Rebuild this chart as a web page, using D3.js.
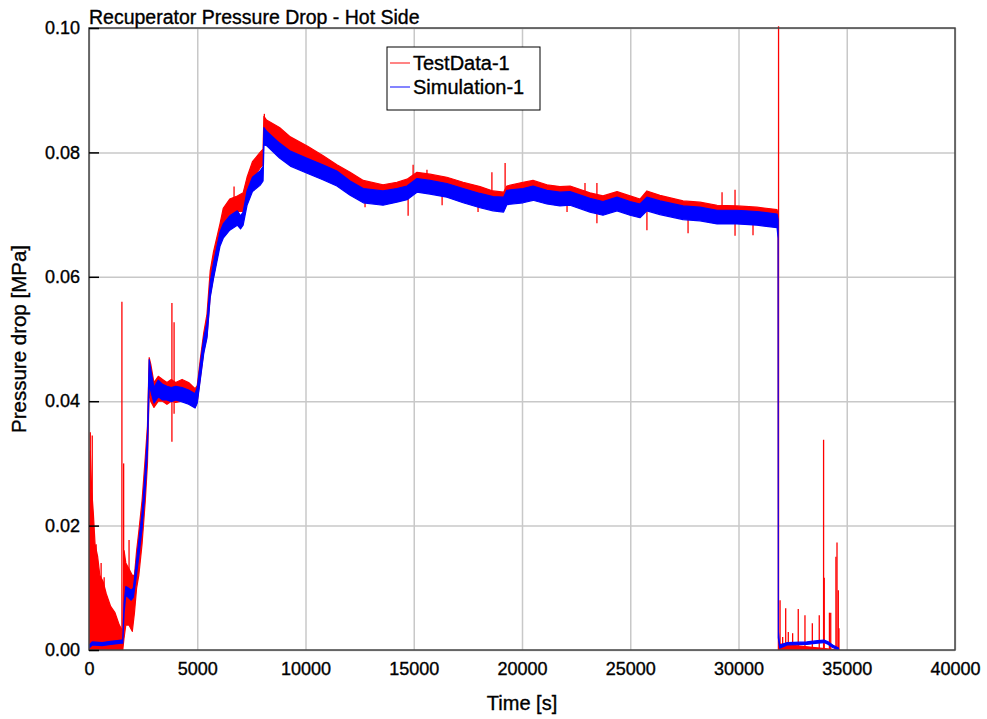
<!DOCTYPE html>
<html>
<head>
<meta charset="utf-8">
<script src="https://cdn.jsdelivr.net/npm/d3@7"></script>
<style>
  html, body { margin: 0; padding: 0; background: #fff; }
  svg { display: block; font-family: "Liberation Sans", Arial, sans-serif; }
  svg text { stroke: #000; stroke-width: 0.35px; }
</style>
</head>
<body>
<div id="chart"></div>
<script>
const TITLE   = 'Recuperator Pressure Drop - Hot Side';
const X_LABEL = 'Time [s]';
const Y_LABEL = 'Pressure drop [MPa]';
const X_TICKS = [0, 5000, 10000, 15000, 20000, 25000, 30000, 35000, 40000];
const Y_TICKS = [0, 0.02, 0.04, 0.06, 0.08, 0.10];

// TestData-1: envelope of the noisy band (time, low, high)
const testT  = [0, 60, 120, 200, 280, 400, 500, 650, 800, 1000, 1200, 1400, 1560, 1620, 1700, 1850, 2000, 2100, 2200, 2300, 2450, 2600, 2700, 2780, 2850, 3000, 3200, 3400, 3600, 3800, 4000, 4300, 4600, 4900, 5000, 5150, 5300, 5450, 5600, 5750, 6050, 6200, 6500, 6850, 7120, 7300, 7550, 7900, 8040, 8080, 8200, 8800, 9300, 10100, 10800, 11450, 12060, 12670, 13580, 14220, 14690, 15150, 15750, 16530, 17280, 18060, 18660, 19150, 19300, 20050, 20510, 21150, 21750, 22220, 23140, 23740, 24390, 24990, 25450, 25770, 26370, 27440, 28220, 29010, 29930, 30850, 31780, 31830, 31845, 34650];
const testLo = [0, 0, 0, 0, 0, 0, 0, 0, 0, 0, 0, 0, 0, 0.002, 0.004, 0.004, 0.003, 0.006, 0.010, 0.012, 0.017, 0.024, 0.030, 0.042, 0.040, 0.039, 0.040, 0.040, 0.0395, 0.040, 0.0398, 0.040, 0.040, 0.039, 0.040, 0.044, 0.048, 0.0505, 0.057, 0.060, 0.0655, 0.0685, 0.070, 0.0705, 0.0705, 0.073, 0.0755, 0.0775, 0.078, 0.083, 0.0825, 0.081, 0.0795, 0.078, 0.0765, 0.0755, 0.074, 0.0728, 0.0723, 0.0728, 0.0733, 0.0745, 0.0742, 0.0736, 0.0728, 0.072, 0.0714, 0.0713, 0.0724, 0.0728, 0.0732, 0.0726, 0.0722, 0.0723, 0.0712, 0.0708, 0.0714, 0.0707, 0.0703, 0.0714, 0.0708, 0.0700, 0.0698, 0.0693, 0.0693, 0.0690, 0.0686, 0.0670, 0, 0];
const testHi = [0.020, 0.032, 0.026, 0.022, 0.017, 0.015, 0.012, 0.011, 0.009, 0.007, 0.006, 0.004, 0.003, 0.016, 0.014, 0.013, 0.012, 0.012, 0.016, 0.019, 0.024, 0.031, 0.036, 0.047, 0.046, 0.043, 0.044, 0.0435, 0.043, 0.0435, 0.043, 0.0435, 0.043, 0.042, 0.0425, 0.047, 0.051, 0.054, 0.061, 0.064, 0.0685, 0.071, 0.0725, 0.073, 0.0735, 0.076, 0.0785, 0.080, 0.0805, 0.0858, 0.0852, 0.084, 0.0825, 0.081, 0.0795, 0.078, 0.0768, 0.0755, 0.0748, 0.0752, 0.0757, 0.0768, 0.0765, 0.076, 0.0752, 0.0745, 0.0738, 0.0736, 0.0746, 0.0752, 0.0755, 0.0748, 0.0745, 0.0746, 0.0735, 0.073, 0.0737, 0.073, 0.0725, 0.0738, 0.0731, 0.0722, 0.072, 0.0715, 0.0714, 0.0712, 0.0708, 0.0700, 0.001, 0];

// TestData-1: isolated spikes (time, from, to)
const spikeT    = [60, 150, 330, 560, 700, 1520, 1600, 1850, 3830, 3930, 6700, 8100, 12750, 14740, 14970, 15610, 16310, 17970, 18610, 19220, 22080, 22910, 23460, 25770, 27670, 29240, 29840, 30670, 31850, 31920, 32040, 32180, 32300, 32500, 32760, 33070, 33410, 33730, 33930, 33960, 34200, 34260, 34500, 34550, 34610, 34640];
const spikeFrom = [0, 0, 0, 0, 0, 0, 0.002, 0.004, 0.0335, 0.038, 0.070, 0.083, 0.0712, 0.0698, 0.0735, 0.0745, 0.0715, 0.0704, 0.073, 0.071, 0.0704, 0.0735, 0.0686, 0.0675, 0.067, 0.071, 0.0666, 0.0667, 0, 0, 0, 0, 0, 0, 0, 0, 0, 0, 0, 0, 0, 0, 0, 0, 0, 0];
const spikeTo   = [0.035, 0.0345, 0.017, 0.014, 0.0117, 0.056, 0.030, 0.0177, 0.0558, 0.0527, 0.0745, 0.0862, 0.074, 0.0735, 0.078, 0.0772, 0.075, 0.0735, 0.0768, 0.0783, 0.074, 0.0751, 0.0751, 0.073, 0.071, 0.0736, 0.074, 0.071, 0.1003, 0.0080, 0.0021, 0.0067, 0.0029, 0.0027, 0.0066, 0.0056, 0.0043, 0.0056, 0.0338, 0.0116, 0.0060, 0.0060, 0.0150, 0.0173, 0.0096, 0.0035];

// Simulation-1: envelope of the band (time, low, high)
const simT  = [0, 150, 600, 1000, 1500, 1560, 1620, 1700, 1800, 1950, 2050, 2150, 2300, 2450, 2600, 2700, 2780, 2850, 3000, 3200, 3400, 3600, 3800, 4000, 4300, 4600, 4900, 5000, 5150, 5300, 5450, 5600, 5750, 6050, 6200, 6500, 6850, 7000, 7120, 7300, 7550, 7900, 8040, 8080, 8200, 8800, 9300, 10100, 10800, 11450, 12060, 12670, 13580, 14220, 14690, 15150, 15750, 16530, 17280, 18060, 18660, 19150, 19300, 20050, 20510, 21150, 21750, 22220, 23140, 23740, 24390, 24990, 25450, 25770, 26370, 27440, 28220, 29010, 29930, 30850, 31780, 31830, 31840, 31900, 32250, 33150, 33650, 33950, 34150, 34350, 34620];
const simLo = [0.0003, 0.0008, 0.0007, 0.0009, 0.0011, 0.0011, 0.0060, 0.0088, 0.0085, 0.0080, 0.0085, 0.0110, 0.0150, 0.0195, 0.0260, 0.0320, 0.0427, 0.0417, 0.0397, 0.0407, 0.0402, 0.0402, 0.0399, 0.0402, 0.0399, 0.0395, 0.0389, 0.0397, 0.0437, 0.0477, 0.0502, 0.0567, 0.0597, 0.0649, 0.0662, 0.0675, 0.0683, 0.0677, 0.0683, 0.0715, 0.0737, 0.0747, 0.0754, 0.0812, 0.0811, 0.0791, 0.0778, 0.0766, 0.0756, 0.0746, 0.0731, 0.0719, 0.0715, 0.0720, 0.0724, 0.0736, 0.0733, 0.0728, 0.0719, 0.0711, 0.0706, 0.0704, 0.0716, 0.0719, 0.0723, 0.0717, 0.0714, 0.0715, 0.0704, 0.0699, 0.0706, 0.0699, 0.0695, 0.0706, 0.0700, 0.0692, 0.0690, 0.0685, 0.0685, 0.0683, 0.0679, 0.0662, 0.0020, 0.0003, 0.0008, 0.0009, 0.0011, 0.0012, 0.0009, 0.0004, 0.0000];
const simHi = [0.0008, 0.0013, 0.0012, 0.0014, 0.0016, 0.0016, 0.0075, 0.0102, 0.0100, 0.0096, 0.0100, 0.0130, 0.0175, 0.0220, 0.0290, 0.0345, 0.0467, 0.0452, 0.0422, 0.0434, 0.0427, 0.0424, 0.0422, 0.0424, 0.0422, 0.0418, 0.0412, 0.0422, 0.0462, 0.0502, 0.0527, 0.0592, 0.0622, 0.0672, 0.0685, 0.0698, 0.0706, 0.0698, 0.0704, 0.0738, 0.0760, 0.0770, 0.0777, 0.0840, 0.0834, 0.0815, 0.0802, 0.0790, 0.0780, 0.0770, 0.0754, 0.0742, 0.0738, 0.0742, 0.0746, 0.0758, 0.0755, 0.0750, 0.0742, 0.0734, 0.0729, 0.0728, 0.0739, 0.0742, 0.0746, 0.0739, 0.0736, 0.0737, 0.0726, 0.0721, 0.0728, 0.0721, 0.0717, 0.0728, 0.0722, 0.0714, 0.0712, 0.0707, 0.0707, 0.0705, 0.0701, 0.0692, 0.0030, 0.0008, 0.0012, 0.0013, 0.0015, 0.0016, 0.0013, 0.0008, 0.0003];

const MARGIN = { top: 28, right: 32, bottom: 69, left: 89 };
const WIDTH  = 987;
const HEIGHT = 719;
const C_TEST = '#ff0000';
const C_SIM  = '#0000ff';
const C_GRID = '#c8c8c8';
const FONT   = '18px';

const w = WIDTH - MARGIN.left - MARGIN.right;
const h = HEIGHT - MARGIN.top - MARGIN.bottom;

const svg = d3.select('#chart').append('svg')
    .attr('width', WIDTH)
    .attr('height', HEIGHT);

const g = svg.append('g').attr('transform', `translate(${MARGIN.left},${MARGIN.top})`);

const x = d3.scaleLinear().domain([0, 40000]).range([0, w]);
const y = d3.scaleLinear().domain([0, 0.1]).range([h, 0]);

// grid
g.append('g').call(d3.axisBottom(x).tickValues(X_TICKS).tickSize(h).tickFormat(''))
    .call(s => s.select('.domain').remove())
    .selectAll('line').attr('stroke', C_GRID).attr('stroke-width', 1.5);
g.append('g').call(d3.axisLeft(y).tickValues(Y_TICKS).tickSize(-w).tickFormat(''))
    .call(s => s.select('.domain').remove())
    .selectAll('line').attr('stroke', C_GRID).attr('stroke-width', 1.5);

svg.append('clipPath').attr('id', 'plot-clip')
    .append('rect').attr('x', 0).attr('y', -3).attr('width', w).attr('height', h + 3);

const plot = g.append('g').attr('clip-path', 'url(#plot-clip)');

const band = d3.area()
    .x(d => x(d.t))
    .y0(d => y(d.lo))
    .y1(d => y(d.hi));

const testData = testT.map((t, i) => ({ t, lo: testLo[i], hi: testHi[i] }));
const simData  = simT.map((t, i) => ({ t, lo: simLo[i], hi: simHi[i] }));
const spikes   = spikeT.map((t, i) => ({ t, from: spikeFrom[i], to: spikeTo[i] }));

plot.append('path').datum(testData)
    .attr('d', band)
    .attr('fill', C_TEST)
    .attr('stroke', C_TEST).attr('stroke-width', 1.2).attr('stroke-linejoin', 'round');

plot.selectAll('.spike').data(spikes).enter().append('line')
    .attr('class', 'spike')
    .attr('x1', d => x(d.t)).attr('x2', d => x(d.t))
    .attr('y1', d => y(d.from)).attr('y2', d => y(d.to))
    .attr('stroke', C_TEST).attr('stroke-width', 1.3);

plot.append('path').datum(simData)
    .attr('d', band)
    .attr('fill', C_SIM)
    .attr('stroke', C_SIM).attr('stroke-width', 1.2).attr('stroke-linejoin', 'round');

// frame
g.append('rect').attr('width', w).attr('height', h)
    .attr('fill', 'none').attr('stroke', '#444').attr('stroke-width', 1.5);

// y ticks drawn inward, labels outside
const yAxis = g.append('g').call(d3.axisLeft(y).tickValues(Y_TICKS).tickSize(-10).tickFormat(d3.format('.2f')));
yAxis.select('.domain').remove();
yAxis.selectAll('.tick line').attr('stroke', '#000').attr('stroke-width', 1.5);
yAxis.selectAll('.tick text').attr('fill', '#000').style('font-size', FONT).attr('x', -9);

const xAxis = g.append('g').attr('transform', `translate(0,${h})`)
    .call(d3.axisBottom(x).tickValues(X_TICKS).tickSize(0).tickPadding(12).tickFormat(d3.format('d')));
xAxis.select('.domain').remove();
xAxis.selectAll('.tick text').attr('fill', '#000').style('font-size', FONT);

svg.selectAll('.tick text').style('font-family', '"Liberation Sans", Arial, sans-serif');

// labels
svg.append('text').attr('x', MARGIN.left).attr('y', 24)
    .style('font-size', '19.5px').attr('fill', '#000').text(TITLE);

svg.append('text').attr('x', MARGIN.left + w / 2).attr('y', 710)
    .attr('text-anchor', 'middle').style('font-size', '20px').attr('fill', '#000').text(X_LABEL);

svg.append('text').attr('transform', `translate(26,${MARGIN.top + h / 2}) rotate(-90)`)
    .attr('text-anchor', 'middle').style('font-size', '20.5px').attr('fill', '#000').text(Y_LABEL);

// legend
const legend = svg.append('g').attr('transform', 'translate(387,47)');
legend.append('rect').attr('width', 153).attr('height', 63)
    .attr('fill', '#fff').attr('stroke', '#000').attr('stroke-width', 1);
[['TestData-1', C_TEST], ['Simulation-1', C_SIM]].forEach(([label, color], i) => {
    const row = legend.append('g').attr('transform', `translate(0,${16 + i * 24})`);
    row.append('line').attr('x1', 3).attr('x2', 23).attr('y1', 0).attr('y2', 0)
        .attr('stroke', color).attr('stroke-width', 1.2).attr('opacity', 0.8);
    row.append('text').attr('x', 26).attr('y', 7)
        .style('font-size', '20px').attr('fill', '#000').text(label);
});
</script>
</body>
</html>
